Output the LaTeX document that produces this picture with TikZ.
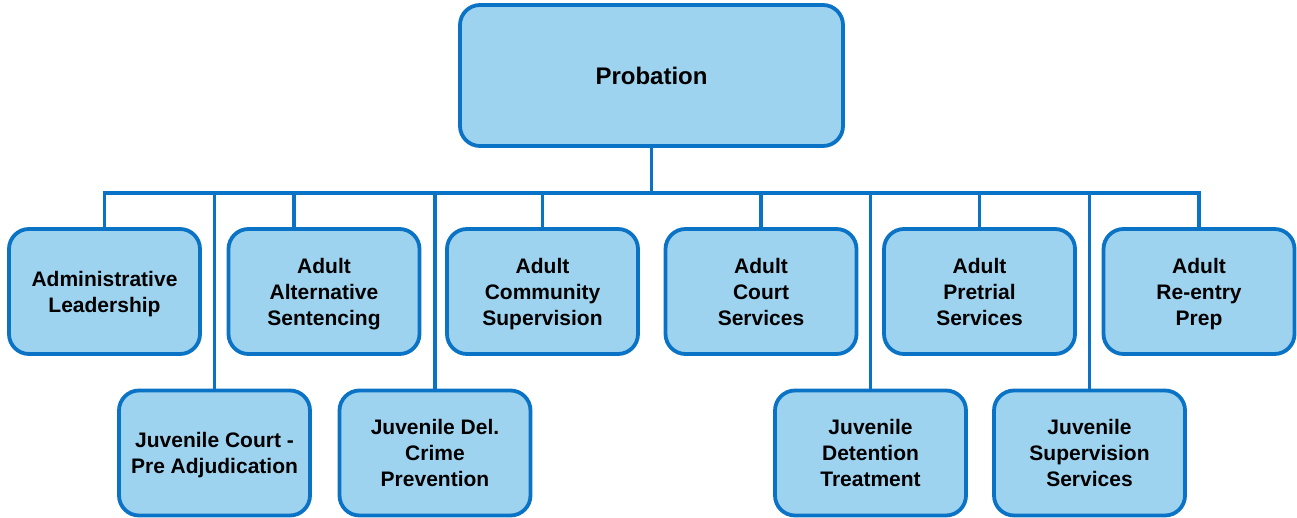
\documentclass[tikz,border=0pt]{standalone}
\usepackage{fontspec}
\setmainfont{Liberation Sans}
\usepackage{xcolor}
\usepackage{tikz}
\usetikzlibrary{positioning,calc}
\definecolor{boxfill}{HTML}{9ED3F0}
\definecolor{boxline}{HTML}{0B73C5}
\tikzset{
  unit/.style={draw=boxline, fill=boxfill, line width=3.8pt, rounded corners=20pt,
    minimum width=191pt, minimum height=125pt, inner sep=0pt, align=center,
    text depth=0pt, font=\fontsize{21}{26}\selectfont\bfseries},
  head/.style={unit, minimum width=383pt, minimum height=141pt,
    font=\fontsize{24}{28}\selectfont\bfseries},
  link/.style={draw=boxline, line width=3.8pt, line cap=rect}
}

\begin{document}
\begin{tikzpicture}[x=1pt, y=-1pt]
    \useasboundingbox (0,0) rectangle (1297,518);

    % Bus
    \coordinate (busL) at (105,193);
    \coordinate (busR) at (1199,193);
    \coordinate (busalt) at (294,193);

    % Head
    \node[head] (prob) at (651.5,75.5) {Probation};

    % Top row
    \node[unit] (adm) at (104.5,291.5) {Administrative\\Leadership};
    \node[unit] (alt) at (324,291.5) {Adult\\Alternative\\Sentencing};
    \node[unit] (com) at (542.5,291.5) {Adult\\Community\\Supervision};
    \node[unit] (crt) at (761,291.5) {Adult\\Court\\Services};
    \node[unit] (pre) at (979.5,291.5) {Adult\\Pretrial\\Services};
    \node[unit] (ren) at (1199,291.5) {Adult\\Re-entry\\Prep};

    % Bottom row
    \node[unit] (jcp) at (214.5,453) {Juvenile Court -\\Pre Adjudication};
    \node[unit] (jdc) at (435,453) {Juvenile Del.\\Crime\\Prevention};
    \node[unit] (jdt) at (870.5,453) {Juvenile\\Detention\\Treatment};
    \node[unit] (jss) at (1089.5,453) {Juvenile\\Supervision\\Services};

    % Links
    \draw[link] (busL) -- (busR);
    \draw[link] (prob.south) -- (prob.south |- busL);
    \foreach \n in {adm,com,crt,pre,ren,jcp,jdc,jdt,jss}
        \draw[link] (\n.north |- busL) -- (\n.north);
    \draw[link] (busalt) -- (busalt |- alt.north);
\end{tikzpicture}
\end{document}
